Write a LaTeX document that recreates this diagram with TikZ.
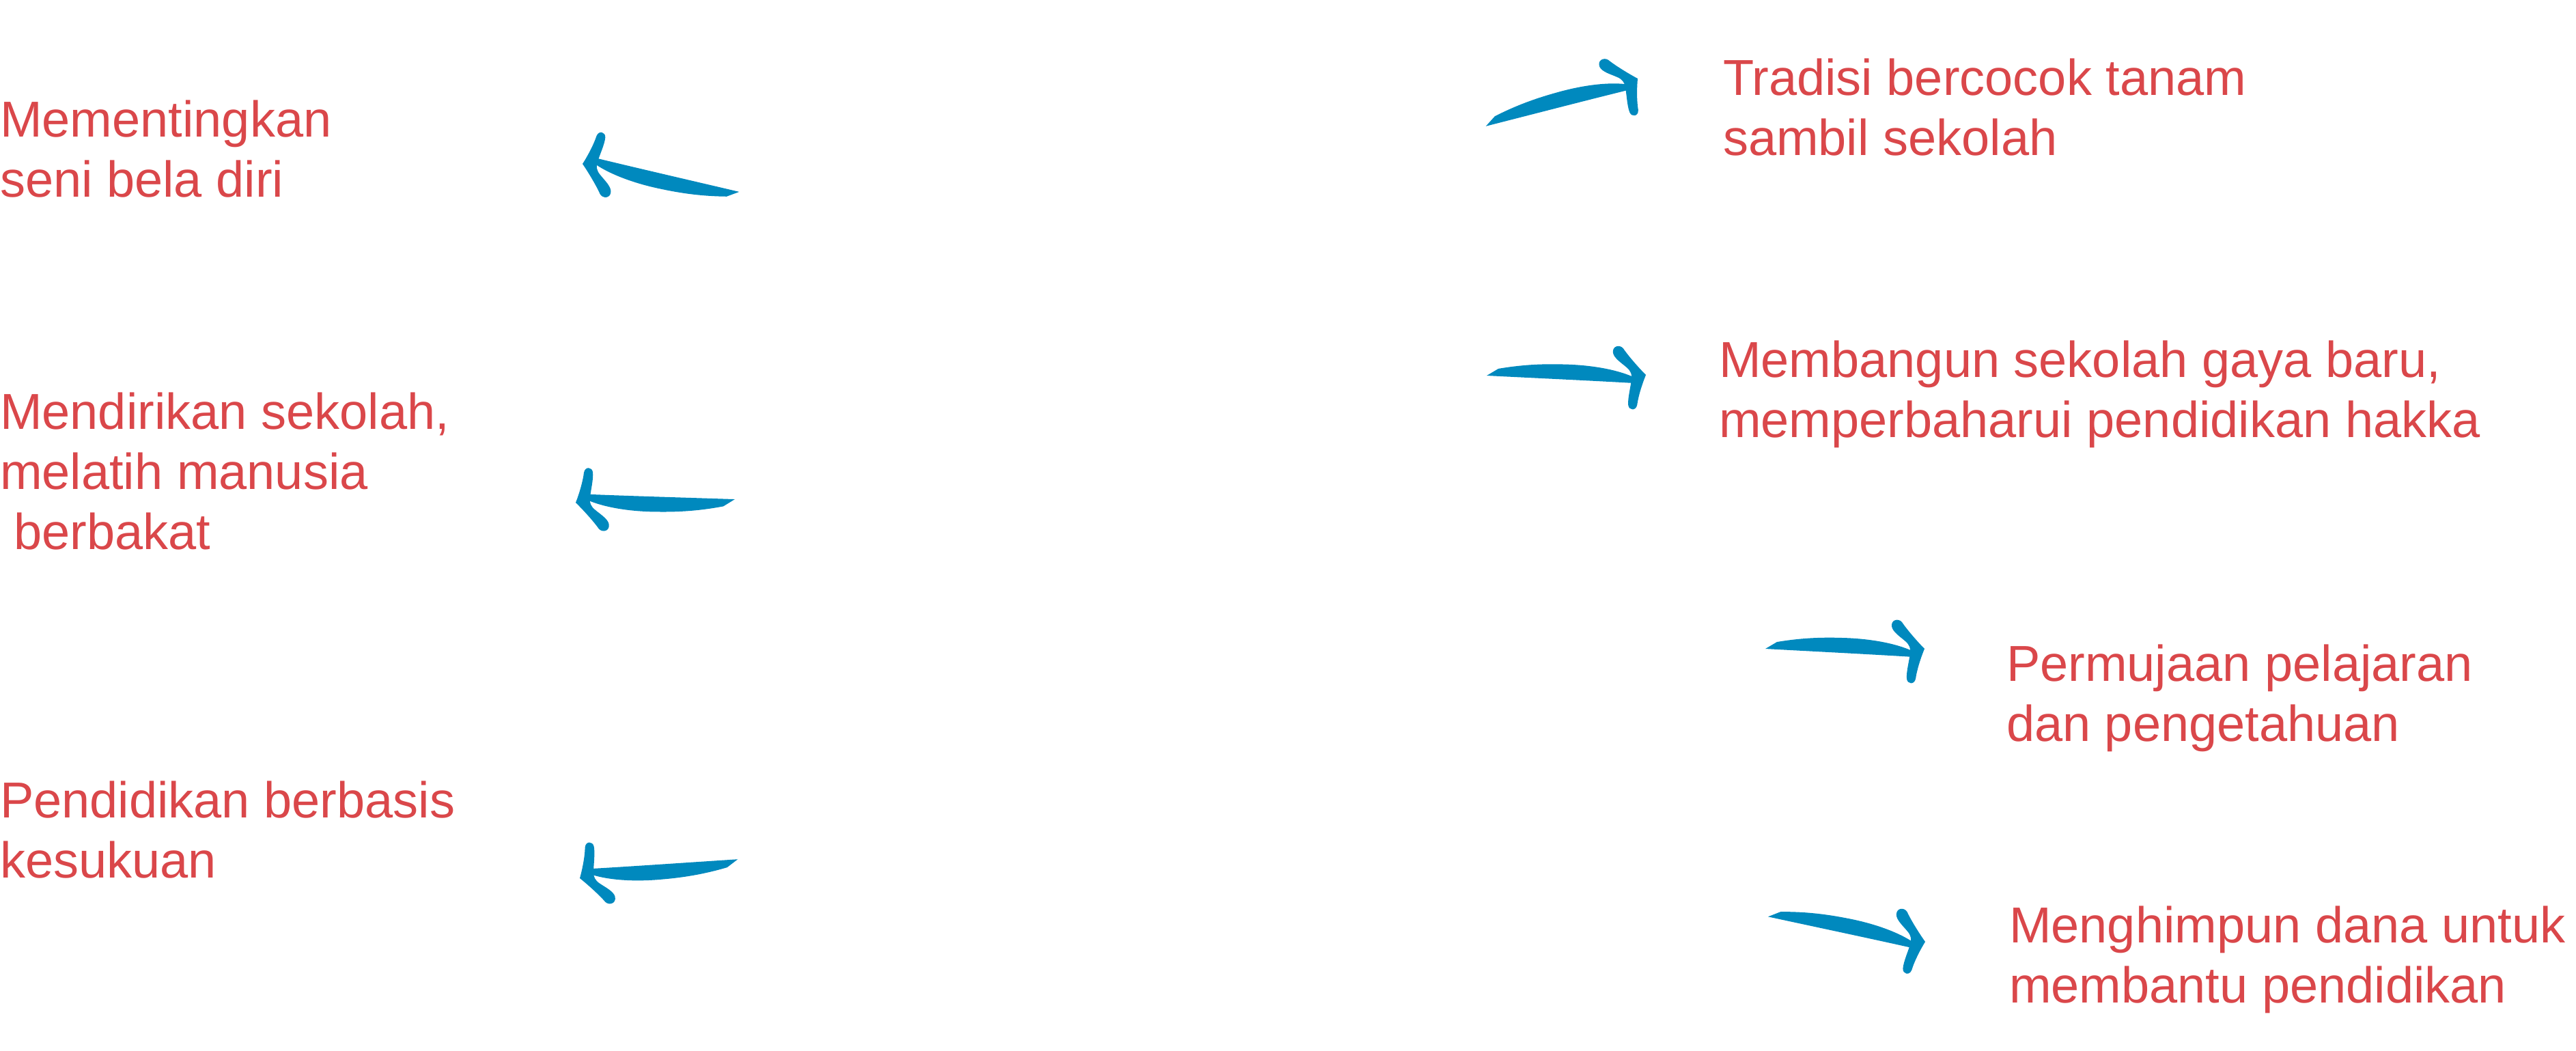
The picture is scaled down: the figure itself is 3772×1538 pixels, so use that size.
\documentclass[tikz,border=0pt]{standalone}
\usepackage{fontspec}
\setmainfont{Liberation Sans}
\usetikzlibrary{calc}
\definecolor{txtred}{RGB}{218,71,74}
\definecolor{arrowblue}{RGB}{0,137,190}
\tikzset{
  lbl/.style={anchor=base west, inner sep=0pt, outer sep=0pt, align=left, text=txtred,
    font={\fontsize{14.8pt}{17.6pt}\selectfont}},
  brush/.pic={
    \fill[arrowblue] (-233,0) -- (-216,-10) .. controls (-180,-16) and (-150,-17) .. (-120,-16)
      .. controls (-80,-15) and (-40,-8) .. (-14,5) -- (-16,12)
      .. controls (-80,8) and (-160,4) .. (-233,0) -- cycle;
    \fill[arrowblue] (0,0) .. controls (-8,-8) and (-25,-27) .. (-33,-39)
      .. controls (-38,-45) and (-49,-43) .. (-48,-33)
      .. controls (-47,-25) and (-36,-18) .. (-28,-11)
      .. controls (-22,-6) and (-20,0) .. (-21,6)
      .. controls (-22,16) and (-27,34) .. (-26,44)
      .. controls (-25,52) and (-15,53) .. (-13,44)
      .. controls (-11,30) and (-5,12) .. (0,0) -- cycle;
  }
}
\newcommand{\brusharrow}[2]{%
  \path let \p1=($(#2)-(#1)$), \n1={atan2(\y1,\x1)} in pic[rotate=\n1] at (#2) {brush};}
\begin{document}
\begin{tikzpicture}[x=0.2pt,y=-0.2pt]
\useasboundingbox (0,0) rectangle (3772,1538);
% texts (anchored at the baseline of the last line)
\node[lbl] (l1) at (0,288.3) {Mementingkan\\seni bela diri};
\node[lbl] (l2) at (0,804) {Mendirikan sekolah,\\melatih manusia\\\hspace*{0.278em}berbakat};
\node[lbl] (l3) at (0,1285) {Pendidikan berbasis\\kesukuan};
\node[lbl] (r1) at (2523,227.3) {Tradisi bercocok tanam\\sambil sekolah};
\node[lbl] (r2) at (2517,640) {Membangun sekolah gaya baru,\\memperbaharui pendidikan hakka};
\node[lbl] (r3) at (2938,1085) {Permujaan pelajaran\\dan pengetahuan};
\node[lbl] (r4) at (2942,1468) {Menghimpun dana untuk\\membantu pendidikan};
% arrow coordinates
\coordinate (h1) at (853,240);  \coordinate (t1) at (1083,281);
\coordinate (h2) at (843,736);  \coordinate (t2) at (1078,731);
\coordinate (h3) at (849,1286); \coordinate (t3) at (1082,1258);
\coordinate (h4) at (2398,115); \coordinate (t4) at (2175,185);
\coordinate (h5) at (2410,549); \coordinate (t5) at (2175,550);
\coordinate (h6) at (2818,950); \coordinate (t6) at (2585,950);
\coordinate (h7) at (2819,1379);\coordinate (t7) at (2587,1342);
\brusharrow{t1}{h1}
\brusharrow{t2}{h2}
\brusharrow{t3}{h3}
\brusharrow{t4}{h4}
\brusharrow{t5}{h5}
\brusharrow{t6}{h6}
\brusharrow{t7}{h7}
\end{tikzpicture}
\end{document}
